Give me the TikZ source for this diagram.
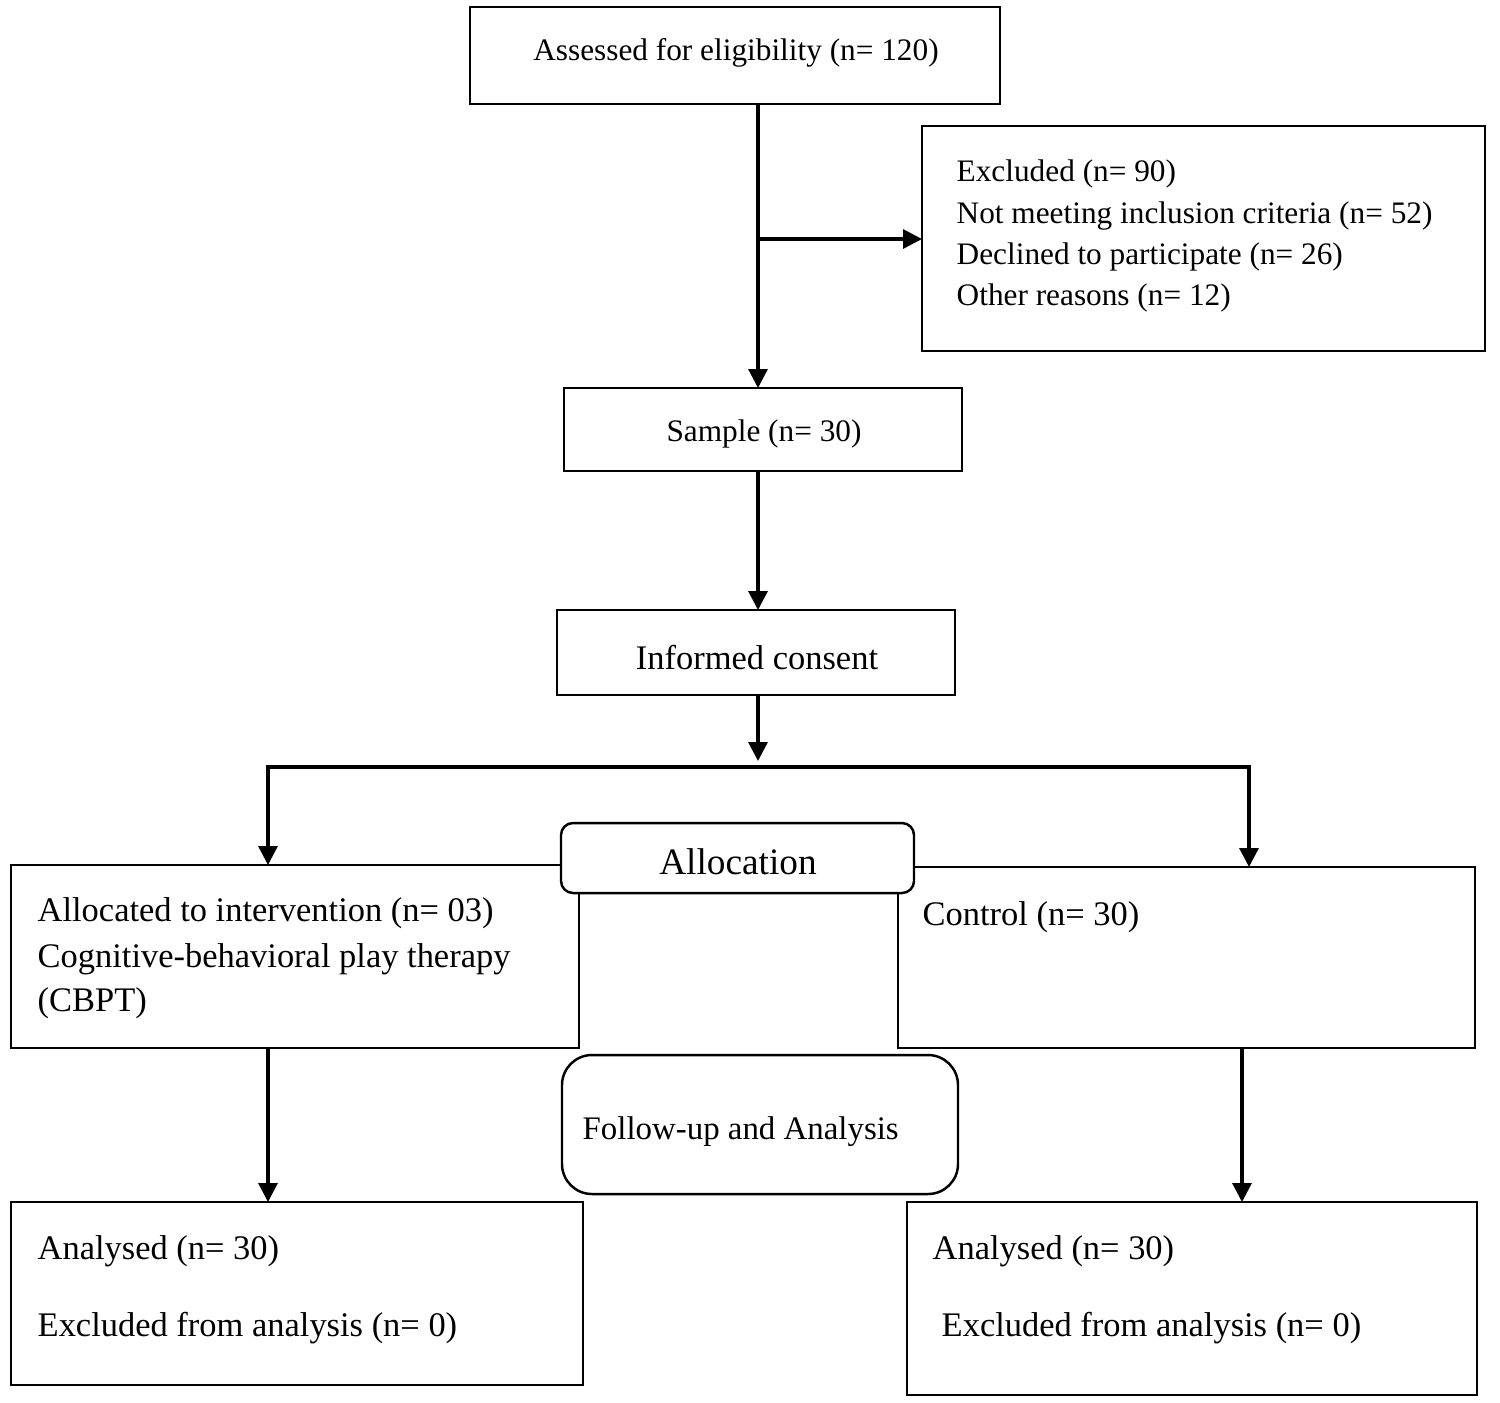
\documentclass[tikz,border=0pt]{standalone}
\usepackage{fontspec}
\setmainfont{Liberation Serif}
\usetikzlibrary{arrows.meta,fit,calc}
\begin{document}
\begin{tikzpicture}[x=0.01cm,y=-0.01cm,
  box/.style={draw,line width=0.75pt,inner sep=0pt,outer sep=0pt},
  rbox/.style={box,fill=white,line width=0.7pt},
  arr/.style={line width=0.9pt,-{Triangle[length=0.19cm,width=0.19cm]}},
  darr/.style={line width=0.9pt,{Triangle[length=0.19cm,width=0.19cm]}-{Triangle[length=0.19cm,width=0.19cm]}},
  txa/.style={font=\fontsize{8.9}{11.67}\selectfont,inner sep=0pt},
  txb/.style={font=\fontsize{9.8}{12.8}\selectfont,inner sep=0pt}]
\useasboundingbox (0,0) rectangle (1500,1402);
% boxes
\node[box,fit={(470,7)(1000,104)}] (assess) {};
\node[box,fit={(922,126)(1485,351)}] (excl) {};
\node[box,fit={(564,388)(962,471)}] (sample) {};
\node[box,fit={(557,610)(955,695)}] (consent) {};
\node[box,fit={(11,865)(579,1048)}] (interv) {};
\node[box,fit={(898,867)(1475,1048)}] (control) {};
\node[rbox,rounded corners=0.12cm,fit={(561,823)(914,893)}] (alloc) {};
\node[rbox,rounded corners=0.3cm,fit={(562,1055)(958,1194)}] (follow) {};
\node[box,fit={(11,1202)(583,1385)}] (anl) {};
\node[box,fit={(907,1202)(1477,1395)}] (anr) {};
% texts
\node[txa] (t1) at (736,53) {Assessed for eligibility (n= 120)};
\node[txa,anchor=mid west] (t2a) at (956,173) {Excluded (n= 90)};
\node[txa,anchor=mid west] (t2b) at (956,215) {Not meeting inclusion criteria (n= 52)};
\node[txa,anchor=mid west] (t2c) at (956,256) {Declined to participate (n= 26)};
\node[txa,anchor=mid west] (t2d) at (956,297) {Other reasons (n= 12)};
\node[txa] (t3) at (764,434) {Sample (n= 30)};
\node[txb] (t4) at (757,658) {Informed consent};
\node[font=\fontsize{10.6}{13}\selectfont,inner sep=0pt] (t5) at (738,862) {Allocation};
\node[txb,anchor=mid west] (t6a) at (37,913) {Allocated to intervention (n= 03)};
\node[txb,anchor=mid west] (t6b) at (37,959) {Cognitive-behavioral play therapy};
\node[txb,anchor=mid west] (t6c) at (37,1003) {(CBPT)};
\node[txb,anchor=mid west] (t7) at (922,917) {Control (n= 30)};
\node[font=\fontsize{9.35}{12}\selectfont,inner sep=0pt,anchor=mid west] (t8) at (582,1131) {Follow-up and Analysis};
\node[txb,anchor=mid west] (t9a) at (37,1251) {Analysed (n= 30)};
\node[txb,anchor=mid west] (t9b) at (37,1328) {Excluded from analysis (n= 0)};
\node[txb,anchor=mid west] (t10a) at (932,1251) {Analysed (n= 30)};
\node[txb,anchor=mid west] (t10b) at (941,1328) {Excluded from analysis (n= 0)};
% connectors
\coordinate (trunk) at (758,0);
\coordinate (br) at (758,239);
\coordinate (tip) at (758,761);
\coordinate (sl) at (268,767);
\coordinate (sr) at (1249,767);
\coordinate (dl) at (268,0);
\coordinate (dr) at (1242,0);
\draw[arr] (assess.south -| trunk) -- (sample.north -| trunk);
\draw[arr] (br) -- (br -| excl.west);
\draw[arr] (sample.south -| trunk) -- (consent.north -| trunk);
\draw[arr] (consent.south -| trunk) -- (tip);
\draw[darr] (sl |- interv.north) -- (sl) -- (sr) -- (sr |- control.north);
\draw[arr] (interv.south -| dl) -- (anl.north -| dl);
\draw[arr] (control.south -| dr) -- (anr.north -| dr);
\end{tikzpicture}
\end{document}
